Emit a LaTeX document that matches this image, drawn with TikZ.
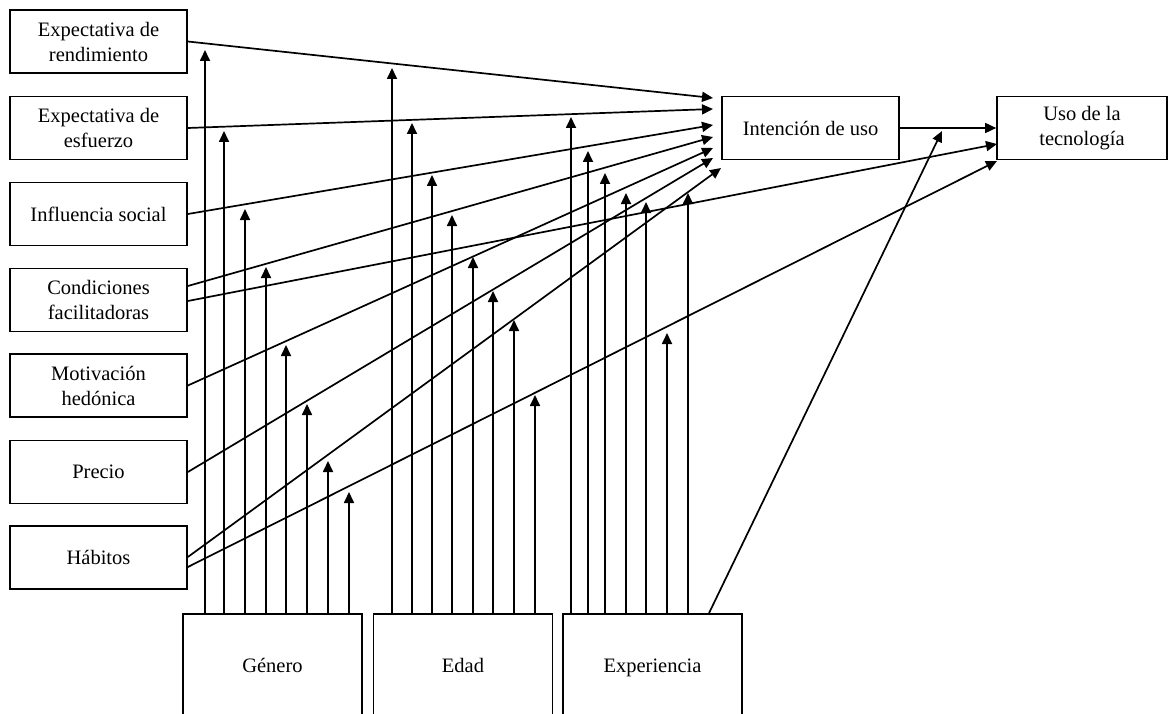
\documentclass[tikz,border=0pt]{standalone}
\usepackage{fontspec}
\setmainfont{Liberation Serif}
\usetikzlibrary{arrows.meta}
\begin{document}
\begin{tikzpicture}[x=1pt,y=-1pt,
  every node/.style={font=\fontsize{20.5}{25}\selectfont},
  box/.style={draw,line width=1.7pt,align=center,inner sep=2pt},
  srcbox/.style={box,minimum width=177pt,minimum height=63pt},
  modbox/.style={box,minimum width=179pt,minimum height=108pt,text height=14pt,text depth=5pt},
  link/.style={line width=1.7pt},
  arr/.style={link,-{Triangle[length=11pt,width=10pt]}}]
\path[use as bounding box,clip] (0,0) rectangle (1169,714);

% determinants
\node[srcbox] (er) at (98.5,41.5) {Expectativa de\\rendimiento};
\node[srcbox] (ee) at (98.5,128)  {Expectativa de\\esfuerzo};
\node[srcbox] (is) at (98.5,214)  {Influencia social};
\node[srcbox] (cf) at (98.5,300)  {Condiciones\\facilitadoras};
\node[srcbox] (mh) at (98.5,385.5){Motivación\\hedónica};
\node[srcbox] (pr) at (98.5,472)  {Precio};
\node[srcbox] (hb) at (98.5,557.5){Hábitos};

% outcomes
\node[srcbox] (int) at (810.5,128) {Intención de uso};
\node[box,minimum width=170pt,minimum height=63pt] (uso) at (1082,128) {Uso de la\\tecnología};

% moderators
\node[modbox] (gen) at (272.5,668) {Género};
\node[modbox] (eda) at (463,668)   {Edad};
\node[modbox] (exp) at (652.5,668) {Experiencia};

% arrow tips in front of the outcome boxes
\coordinate (i1) at (713,98);
\coordinate (i2) at (713,109);
\coordinate (i3) at (713,125);
\coordinate (i4) at (713,137);
\coordinate (i5) at (713,148);
\coordinate (i6) at (713,158);
\coordinate (i7) at (721,168);
\coordinate (u2) at (997,144);
\coordinate (u3) at (997,161);
\coordinate (mid) at (942,131);

% paths into intention and use
\draw[arr] (er.east) -- (i1);
\draw[arr] (ee.east) -- (i2);
\draw[arr] (is.east) -- (i3);
\draw[arr] ([yshift=14pt]cf.east) -- (i4);
\draw[arr] ([yshift=-1pt]cf.east) -- (u2);
\draw[arr] (mh.east) -- (i5);
\draw[arr] (pr.east) -- (i6);
\draw[arr] ([yshift=0.5pt]hb.east) -- (i7);
\draw[arr] ([yshift=-9.5pt]hb.east) -- (u3);
\draw[arr] (int.east) -- (uso.west);

% moderating effects
\foreach \x/\t in {205/50,224/131,245/209,266/267,286/345,307/404,328/461,349/492}
  \draw[arr] (gen.north -| \x,0) -- (\x,\t);
\foreach \x/\t in {392/68,412/123,432/175,452/215,473/257,493/291,514/320,535/395}
  \draw[arr] (eda.north -| \x,0) -- (\x,\t);
\foreach \x/\t in {571/117,588/151,605/173,626/193,646/202,667/333,688/193}
  \draw[arr] (exp.north -| \x,0) -- (\x,\t);
\draw[arr] (exp.north -| 709,0) -- (mid);
\end{tikzpicture}
\end{document}
